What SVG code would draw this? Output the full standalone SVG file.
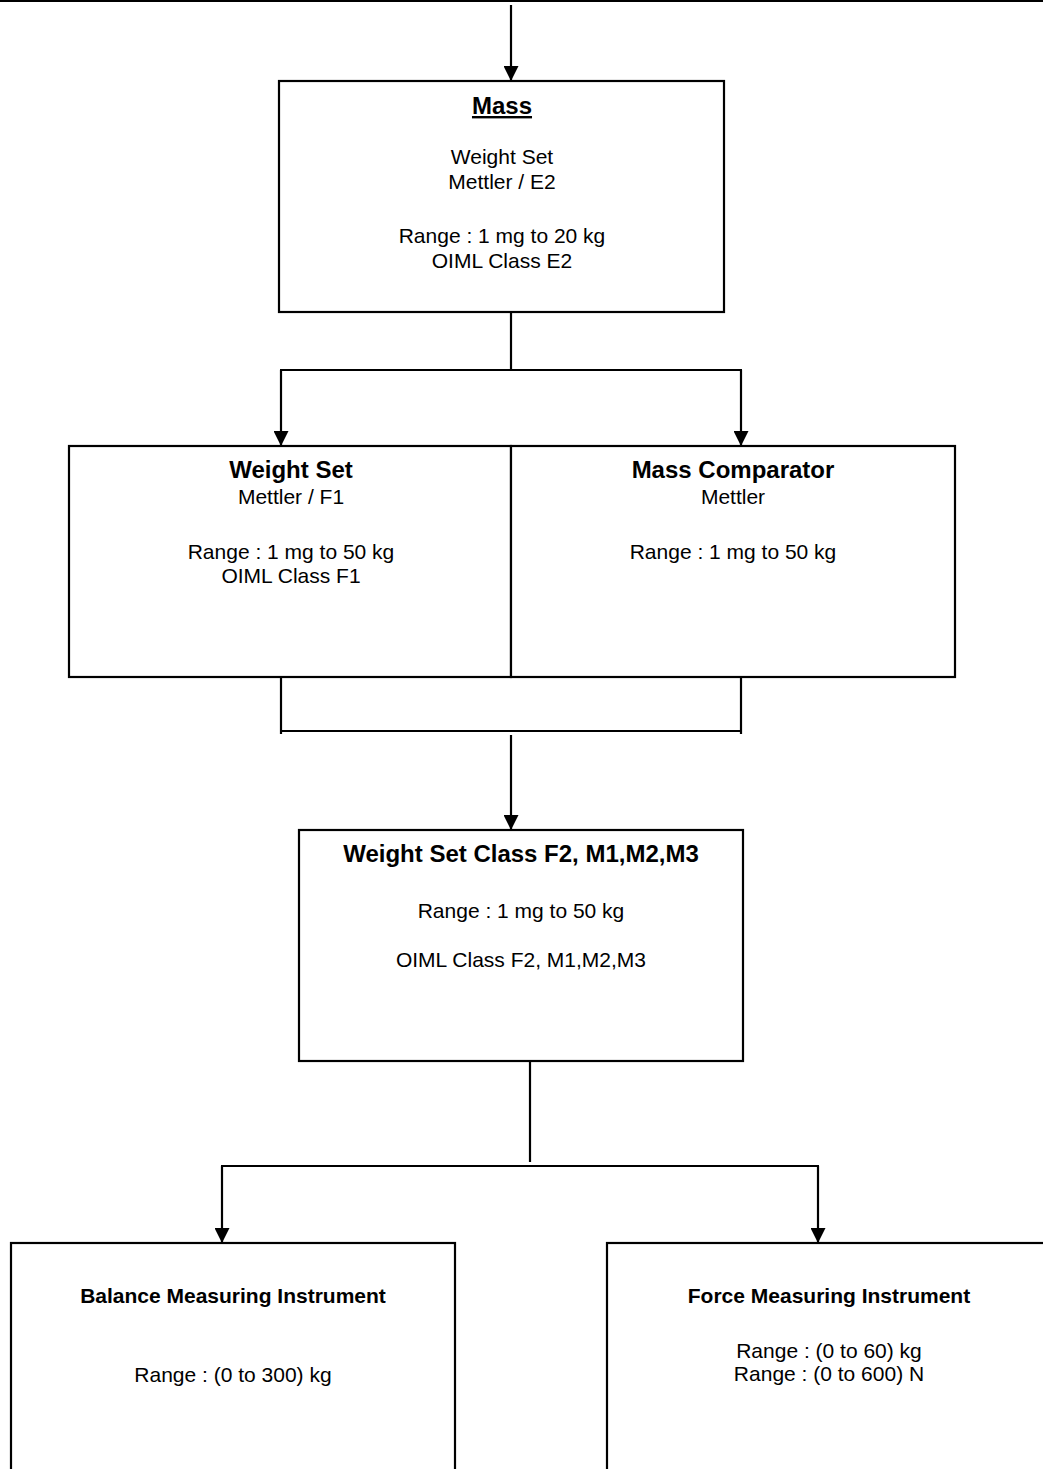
<svg xmlns="http://www.w3.org/2000/svg" width="1043" height="1469" viewBox="0 0 1043 1469">
<style>
.box{fill:#fff;stroke:#000;stroke-width:2.2}
.ln{fill:none;stroke:#000;stroke-width:2.2}
text{font-family:"Liberation Sans",Arial,sans-serif;fill:#000;text-anchor:middle}
.t{font-size:24px;font-weight:bold}
.ts{font-size:21px;font-weight:bold}
.r{font-size:21px}
</style>
<defs>
<marker id="ah" markerUnits="userSpaceOnUse" markerWidth="15" markerHeight="15" refX="15" refY="7.5" orient="auto" viewBox="0 0 15 15">
<path d="M0,0 L15,7.5 L0,15 z" fill="#000"/>
</marker>
</defs>
<rect x="0" y="0" width="1043" height="1469" fill="#fff"/>
<g id="connectors">
<line class="ln" x1="0" y1="1" x2="1043" y2="1"/>
<line class="ln" x1="511" y1="5" x2="511" y2="81" marker-end="url(#ah)"/>
<polyline class="ln" points="511,312 511,370"/>
<line class="ln" x1="280" y1="370" x2="742" y2="370"/>
<line class="ln" x1="281" y1="370" x2="281" y2="446" marker-end="url(#ah)"/>
<line class="ln" x1="741" y1="370" x2="741" y2="446" marker-end="url(#ah)"/>
<polyline class="ln" points="281,677 281,734"/>
<polyline class="ln" points="741,677 741,734"/>
<line class="ln" x1="281" y1="731" x2="741" y2="731"/>
<line class="ln" x1="511" y1="735" x2="511" y2="830" marker-end="url(#ah)"/>
<line class="ln" x1="530" y1="1061" x2="530" y2="1162"/>
<line class="ln" x1="221" y1="1166" x2="819" y2="1166"/>
<line class="ln" x1="222" y1="1166" x2="222" y2="1243" marker-end="url(#ah)"/>
<line class="ln" x1="818" y1="1166" x2="818" y2="1243" marker-end="url(#ah)"/>
</g>
<g id="mass">
<rect class="box" x="279" y="81" width="445" height="231"/>
<text class="t" x="502" y="114" text-decoration="underline">Mass</text>
<text class="r" x="502" y="164">Weight Set</text>
<text class="r" x="502" y="189">Mettler / E2</text>
<text class="r" x="502" y="243">Range : 1 mg to 20 kg</text>
<text class="r" x="502" y="268">OIML Class E2</text>
</g>
<g id="weight-set-f1">
<rect class="box" x="69" y="446" width="442" height="231"/>
<text class="t" x="291" y="478">Weight Set</text>
<text class="r" x="291" y="504">Mettler / F1</text>
<text class="r" x="291" y="559">Range : 1 mg to 50 kg</text>
<text class="r" x="291" y="583">OIML Class F1</text>
</g>
<g id="mass-comparator">
<rect class="box" x="511" y="446" width="444" height="231"/>
<text class="t" x="733" y="478">Mass Comparator</text>
<text class="r" x="733" y="504">Mettler</text>
<text class="r" x="733" y="559">Range : 1 mg to 50 kg</text>
</g>
<g id="weight-set-f2">
<rect class="box" x="299" y="830" width="444" height="231"/>
<text class="t" x="521" y="862">Weight Set Class F2, M1,M2,M3</text>
<text class="r" x="521" y="918">Range : 1 mg to 50 kg</text>
<text class="r" x="521" y="967">OIML Class F2, M1,M2,M3</text>
</g>
<g id="balance">
<rect class="box" x="11" y="1243" width="444" height="260"/>
<text class="ts" x="233" y="1303">Balance Measuring Instrument</text>
<text class="r" x="233" y="1382">Range : (0 to 300) kg</text>
</g>
<g id="force">
<rect class="box" x="607" y="1243" width="444" height="260"/>
<text class="ts" x="829" y="1303">Force Measuring Instrument</text>
<text class="r" x="829" y="1358">Range : (0 to 60) kg</text>
<text class="r" x="829" y="1381">Range : (0 to 600) N</text>
</g>
</svg>
